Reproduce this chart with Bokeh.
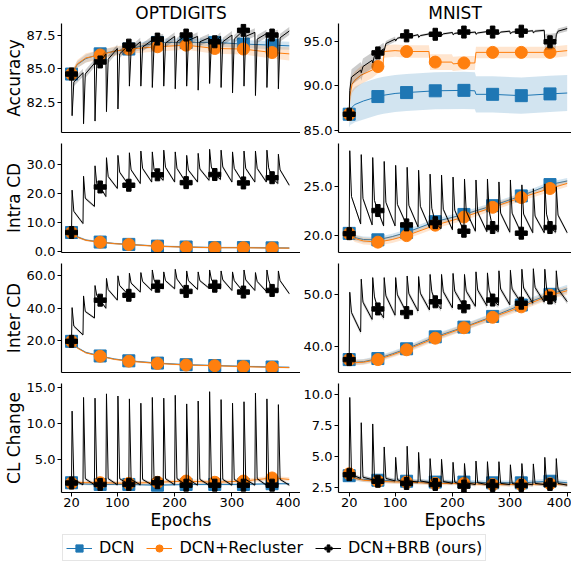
from bokeh.plotting import figure
from bokeh.layouts import column, row
from bokeh.models import (Range1d, FixedTicker, NumeralTickFormatter,
                          Legend, LegendItem)
from bokeh.embed import file_html
from bokeh.resources import INLINE

FONT = "DejaVu Sans"
BLUE = "#1f77b4"
ORANGE = "#ff7f0e"
BLACK = "#000000"

# ---------------- shared epochs ----------------
SX = [20, 30, 45, 70, 95, 120, 170, 220, 270, 320, 370, 400]
MK = [20, 70, 120, 170, 220, 270, 320, 370]
MK_MID = [70, 170, 270, 370]
RESETS = [20, 40, 60, 80, 100, 120, 140, 160, 180, 200, 220, 240, 260, 280, 300, 320, 340, 360, 380]
EPOCH_TICKS = [20, 100, 200, 300, 400]
COL_TITLES = ["OPTDIGITS", "MNIST"]
ROW_LABELS = ["Accuracy", "Intra CD", "Inter CD", "CL Change"]
SERIES_NAMES = ["DCN", "DCN+Recluster", "DCN+BRB (ours)"]

# ---------------- OPTDIGITS accuracy ----------------
OA_DCN = [84.6, 85.3, 85.75, 86.1, 86.3, 86.46, 86.95, 86.95, 86.95, 86.83, 86.75, 86.7]
OA_DCN_SD = [0.15, 0.25, 0.3, 0.3, 0.3, 0.3, 0.3, 0.3, 0.3, 0.3, 0.3, 0.3]
OA_REC = [84.6, 85.35, 85.8, 86.02, 86.3, 86.46, 86.63, 86.75, 86.5, 86.46, 86.2, 86.1]
OA_REC_SD = [0.15, 0.3, 0.35, 0.35, 0.35, 0.35, 0.35, 0.35, 0.4, 0.4, 0.45, 0.5]
OA_BRB_END = [84.6, 84.7, 85.4, 86.1, 86.5, 86.75, 87.0, 87.1, 87.3, 87.4, 87.5, 87.4, 87.3, 87.4, 87.5, 87.85, 87.7, 87.6, 87.6, 87.8]
OA_BRB_PEAK = [81.5, 80.9, 81.1, 81.8, 82.0, 83.7, 83.7, 83.6, 83.7, 83.5, 83.7, 83.4, 83.9, 83.6, 83.2, 83.7, 83.0, 83.6, 83.5]
OA_BRB_MID = [84.0, 84.6, 85.3, 85.7, 86.1, 86.4, 86.6, 86.7, 86.9, 87.0, 87.1, 87.0, 86.9, 87.0, 87.2, 87.4, 87.2, 87.2, 87.3]
OA_BRB_MARK = [85.5, 87.2, 87.0, 87.5]
OA_BRB_SD = [0.3, 0.3, 0.3, 0.3, 0.3, 0.3, 0.3, 0.3, 0.3, 0.3, 0.3, 0.3, 0.3, 0.3, 0.3, 0.3, 0.3, 0.3, 0.3]

# ---------------- MNIST accuracy ----------------
MA_DCN_X = [20, 22, 25, 30, 45, 60, 70, 80, 100, 120, 170, 220, 239, 241, 270, 320, 370, 400]
MA_DCN = [86.8, 87.3, 87.6, 87.9, 88.3, 88.6, 88.8, 88.95, 89.15, 89.25, 89.45, 89.5, 89.45, 89.05, 89.05, 88.9, 89.1, 89.2]
MA_DCN_SD = [1.5, 1.7, 1.9, 2.0, 2.1, 2.1, 2.1, 2.1, 2.1, 2.1, 2.1, 2.1, 2.1, 2.05, 2.05, 2.05, 2.05, 2.05]
MA_REC_X = [20, 21, 25, 30, 40, 60, 70, 79, 81, 100, 120, 159, 161, 170, 199, 201, 220, 239, 241, 270, 320, 370, 400]
MA_REC = [86.8, 88.8, 90.2, 90.65, 91.2, 91.8, 92.2, 92.45, 93.9, 94.0, 93.9, 93.9, 92.7, 92.7, 92.7, 92.5, 92.6, 92.6, 93.8, 93.8, 93.8, 93.8, 94.0]
MA_REC_SD = [0.6, 0.9, 1.0, 1.0, 1.0, 0.9, 0.8, 0.8, 0.7, 0.7, 0.7, 0.7, 0.9, 0.9, 0.9, 0.8, 0.8, 0.8, 0.65, 0.65, 0.65, 0.65, 0.65]
MA_BRB_END = [86.8, 91.8, 92.9, 94.2, 95.3, 95.67, 95.8, 95.9, 96.0, 96.05, 96.1, 96.1, 96.15, 96.15, 96.2, 96.2, 96.25, 96.3, 95.1, 96.5]
MA_BRB_PEAK = [89.5, 91.5, 92.6, 94.0, 95.1, 95.4, 95.5, 95.6, 95.7, 95.8, 95.8, 95.85, 95.85, 95.9, 95.9, 95.95, 96.0, 94.9, 95.8]
MA_BRB_MID = [91.0, 92.2, 93.4, 94.8, 95.4, 95.55, 95.7, 95.8, 95.9, 95.95, 96.0, 96.0, 96.05, 96.1, 96.1, 96.15, 96.2, 95.0, 96.2]
MA_BRB_MARK = [93.74, 95.85, 96.1, 95.0]
MA_BRB_SD = [0.9, 0.9, 0.7, 0.3, 0.15, 0.12, 0.12, 0.12, 0.12, 0.12, 0.12, 0.12, 0.12, 0.12, 0.12, 0.12, 0.15, 0.9, 0.3]

# ---------------- OPTDIGITS intra CD ----------------
OI_DCN = [6.7, 5.2, 4.1, 3.4, 2.9, 2.6, 2.0, 1.7, 1.5, 1.5, 1.4, 1.35]
OI_DCN_SD = [0.5, 0.4, 0.35, 0.3, 0.3, 0.3, 0.3, 0.3, 0.3, 0.3, 0.3, 0.3]
OI_REC = [6.7, 5.1, 4.0, 3.35, 2.85, 2.55, 1.95, 1.65, 1.45, 1.45, 1.35, 1.3]
OI_REC_SD = [0.5, 0.4, 0.35, 0.3, 0.3, 0.3, 0.3, 0.3, 0.3, 0.3, 0.3, 0.3]
OI_BRB_END = [6.7, 9.8, 15.7, 19.1, 21.9, 23.0, 23.6, 24.1, 24.7, 24.1, 23.9, 24.1, 24.7, 25.0, 24.1, 23.8, 24.1, 24.1, 23.6, 23.0]
OI_BRB_PEAK = [21.3, 26.1, 29.7, 32.5, 33.3, 34.2, 34.8, 34.5, 35.1, 34.5, 33.3, 34.0, 35.4, 35.1, 34.5, 34.8, 34.8, 35.1, 33.7]
OI_BRB_MID = [14.0, 18.5, 23.5, 26.0, 27.5, 28.3, 28.8, 28.5, 29.2, 28.8, 28.2, 28.6, 29.3, 29.3, 28.8, 28.8, 28.8, 29.0, 28.3]
OI_BRB_MARK = [22.4, 26.6, 26.7, 25.6]
OI_BRB_SD = [0.5, 0.5, 0.5, 0.5, 0.5, 0.5, 0.5, 0.5, 0.5, 0.5, 0.5, 0.5, 0.5, 0.5, 0.5, 0.5, 0.5, 0.5, 0.5]

# ---------------- MNIST intra CD ----------------
MI_DCN = [20.23, 19.8, 19.6, 19.57, 19.9, 20.33, 21.43, 22.17, 23.07, 24.07, 25.23, 25.6]
MI_DCN_SD = [0.3, 0.3, 0.3, 0.3, 0.3, 0.3, 0.3, 0.3, 0.3, 0.3, 0.3, 0.3]
MI_REC = [20.2, 19.7, 19.45, 19.33, 19.6, 20.0, 21.07, 21.9, 22.9, 23.9, 24.83, 25.35]
MI_REC_SD = [0.35, 0.35, 0.35, 0.35, 0.35, 0.35, 0.35, 0.35, 0.35, 0.35, 0.35, 0.35]
MI_BRB_END = [20.2, 21.2, 21.1, 21.0, 21.0, 21.1, 20.9, 20.8, 20.7, 20.6, 20.45, 20.45, 20.4, 20.4, 20.35, 20.25, 20.3, 20.3, 20.35, 20.3]
MI_BRB_PEAK = [28.7, 28.3, 28.0, 27.6, 27.2, 27.0, 26.7, 26.3, 26.2, 26.0, 25.8, 25.7, 25.8, 25.5, 25.7, 25.2, 24.8, 25.3, 25.0]
MI_BRB_MID = [24.0, 23.8, 23.6, 23.4, 23.2, 23.1, 23.0, 22.8, 22.7, 22.6, 22.5, 22.4, 22.5, 22.3, 22.3, 22.2, 22.0, 22.2, 22.1]
MI_BRB_MARK = [22.57, 21.33, 20.83, 20.83]
MI_BRB_SD = [0.2, 0.2, 0.2, 0.2, 0.2, 0.2, 0.2, 0.2, 0.2, 0.2, 0.2, 0.2, 0.2, 0.2, 0.2, 0.2, 0.2, 0.2, 0.2]

# ---------------- OPTDIGITS inter CD ----------------
OE_DCN = [19.6, 15.8, 12.8, 10.6, 8.7, 7.6, 6.2, 5.2, 4.7, 4.2, 3.8, 3.6]
OE_DCN_SD = [0.6, 0.5, 0.5, 0.5, 0.5, 0.5, 0.5, 0.5, 0.5, 0.5, 0.5, 0.5]
OE_REC = [19.6, 15.5, 12.5, 10.4, 8.5, 7.4, 6.0, 5.0, 4.6, 4.0, 3.6, 3.4]
OE_REC_SD = [0.6, 0.5, 0.5, 0.5, 0.5, 0.5, 0.5, 0.5, 0.5, 0.5, 0.5, 0.5]
OE_BRB_END = [19.6, 23.6, 34.0, 40.0, 45.0, 48.0, 50.0, 51.0, 52.0, 52.0, 50.4, 51.6, 52.4, 52.0, 51.0, 50.0, 51.0, 50.4, 50.0, 49.0]
OE_BRB_PEAK = [40.4, 47.6, 54.0, 58.4, 60.0, 61.6, 62.0, 63.6, 62.4, 64.0, 63.0, 62.4, 63.6, 63.0, 62.4, 63.6, 62.0, 63.6, 63.0]
OE_BRB_MID = [29.0, 38.0, 48.0, 51.5, 54.0, 55.5, 56.5, 57.5, 57.0, 58.0, 57.0, 57.0, 58.0, 57.5, 57.0, 57.5, 56.5, 57.5, 57.0]
OE_BRB_MARK = [45.0, 53.6, 53.6, 51.0]
OE_BRB_SD = [0.8, 0.8, 0.8, 0.8, 0.8, 0.8, 0.8, 0.8, 0.8, 0.8, 0.8, 0.8, 0.8, 0.8, 0.8, 0.8, 0.8, 0.8, 0.8]

# ---------------- MNIST inter CD ----------------
ME_DCN = [37.5, 37.0, 37.1, 37.7, 38.6, 39.57, 41.86, 43.72, 45.77, 47.95, 50.0, 51.05]
ME_DCN_SD = [0.4, 0.5, 0.5, 0.5, 0.5, 0.55, 0.6, 0.6, 0.65, 0.7, 0.75, 0.8]
ME_REC = [37.5, 36.9, 37.0, 37.5, 38.4, 39.38, 41.6, 43.6, 45.6, 47.6, 49.8, 50.7]
ME_REC_SD = [0.4, 0.5, 0.5, 0.5, 0.5, 0.55, 0.6, 0.6, 0.65, 0.7, 0.75, 0.8]
ME_BRB_END = [37.5, 42.8, 45.2, 45.5, 46.0, 46.5, 46.8, 47.0, 47.2, 47.4, 47.6, 47.7, 47.8, 47.9, 48.0, 48.3, 48.3, 48.5, 48.4, 48.6]
ME_BRB_PEAK = [50.4, 52.9, 53.2, 53.2, 53.2, 53.5, 53.4, 53.8, 53.8, 54.0, 53.8, 54.3, 54.1, 54.5, 54.6, 54.8, 54.9, 54.8, 54.5]
ME_BRB_MID = [46.5, 48.5, 49.5, 49.7, 49.9, 50.1, 50.2, 50.5, 50.5, 50.6, 50.6, 50.8, 50.8, 51.0, 51.0, 51.2, 51.3, 51.2, 51.0]
ME_BRB_MARK = [47.2, 48.57, 48.9, 49.3]
ME_BRB_SD = [0.5, 0.5, 0.5, 0.5, 0.5, 0.5, 0.5, 0.5, 0.5, 0.5, 0.5, 0.5, 0.5, 0.5, 0.5, 0.5, 0.5, 0.5, 0.5]

# ---------------- OPTDIGITS CL change ----------------
OC_DCN = [1.74, 1.6, 1.55, 1.5, 1.5, 1.5, 1.4, 1.5, 1.5, 1.5, 1.6, 1.6]
OC_DCN_SD = [0.15, 0.15, 0.15, 0.15, 0.15, 0.15, 0.15, 0.15, 0.15, 0.15, 0.15, 0.15]
OC_REC = [1.7, 1.8, 1.75, 1.74, 1.7, 1.65, 1.8, 1.97, 1.8, 1.97, 2.4, 2.2]
OC_REC_SD = [0.2, 0.25, 0.25, 0.25, 0.25, 0.25, 0.25, 0.3, 0.3, 0.3, 0.3, 0.3]
OC_BRB_END = [1.7, 1.45, 1.45, 1.45, 1.45, 1.5, 1.45, 1.45, 1.45, 1.45, 1.4, 1.4, 1.4, 1.4, 1.4, 1.4, 1.4, 1.4, 1.4, 1.4]
OC_BRB_PEAK = [11.7, 13.6, 13.5, 14.1, 13.8, 13.4, 12.8, 13.6, 13.5, 13.9, 12.7, 13.1, 14.4, 13.3, 12.8, 13.0, 14.2, 13.4, 12.6]
OC_BRB_MID = [2.2, 2.3, 2.3, 2.3, 2.3, 2.2, 2.2, 2.3, 2.3, 2.3, 2.2, 2.2, 2.4, 2.2, 2.2, 2.2, 2.3, 2.2, 2.2]
OC_BRB_MARK = [1.5, 1.74, 1.4, 1.4]
OC_BRB_SD = [0.2, 0.2, 0.2, 0.2, 0.2, 0.2, 0.2, 0.2, 0.2, 0.2, 0.2, 0.2, 0.2, 0.2, 0.2, 0.2, 0.2, 0.2, 0.2]

# ---------------- MNIST CL change ----------------
MC_DCN = [3.42, 3.2, 3.1, 3.05, 3.0, 2.97, 2.9, 2.9, 2.84, 2.84, 2.97, 2.85]
MC_DCN_SD = [0.2, 0.2, 0.2, 0.2, 0.2, 0.2, 0.2, 0.2, 0.2, 0.2, 0.2, 0.2]
MC_REC = [3.58, 3.2, 3.05, 2.97, 2.92, 2.9, 2.79, 2.79, 2.7, 2.7, 2.76, 2.7]
MC_REC_SD = [0.15, 0.15, 0.15, 0.15, 0.15, 0.15, 0.15, 0.15, 0.15, 0.15, 0.15, 0.15]
MC_BRB_END = [3.5, 3.2, 3.1, 3.05, 3.0, 2.79, 2.9, 2.85, 2.8, 2.8, 2.58, 2.7, 2.7, 2.7, 2.7, 2.63, 2.68, 2.7, 2.7, 2.65]
MC_BRB_PEAK = [9.74, 7.7, 7.6, 5.74, 4.9, 5.8, 5.3, 4.8, 4.74, 4.5, 4.4, 4.6, 4.55, 4.55, 4.3, 4.4, 4.37, 4.9, 4.8]
MC_BRB_MID = [3.5, 3.3, 3.3, 3.2, 3.1, 3.0, 3.0, 3.0, 2.95, 2.9, 2.85, 2.85, 2.8, 2.8, 2.8, 2.8, 2.8, 2.8, 2.8]
MC_BRB_MARK = [2.97, 2.71, 2.63, 2.71]
MC_BRB_SD = [0.15, 0.15, 0.15, 0.15, 0.15, 0.15, 0.15, 0.15, 0.15, 0.15, 0.15, 0.15, 0.15, 0.15, 0.15, 0.15, 0.15, 0.15, 0.15]

# ---------------- axis ranges / ticks ----------------
Y_RANGES = [[(80.25, 88.36), (84.73, 97.07)],
            [(-0.2, 37.4), (18.27, 29.44)],
            [(0.4, 67.6), (35.03, 55.9)],
            [(0.38, 15.54), (2.06, 10.87)]]
Y_TICKS = [[[82.5, 85.0, 87.5], [85.0, 90.0, 95.0]],
           [[0.0, 10.0, 20.0, 30.0], [20.0, 25.0]],
           [[20.0, 40.0, 60.0], [40.0, 50.0]],
           [[5.0, 10.0, 15.0], [2.5, 5.0, 7.5, 10.0]]]
X_RANGES = [(2.5, 419.6), (1.35, 407.5)]

PANELS = [
    [dict(dcn=(SX, OA_DCN, OA_DCN_SD), rec=(SX, OA_REC, OA_REC_SD),
          brb=(OA_BRB_END, OA_BRB_PEAK, OA_BRB_MID, OA_BRB_MARK, OA_BRB_SD)),
     dict(dcn=(MA_DCN_X, MA_DCN, MA_DCN_SD), rec=(MA_REC_X, MA_REC, MA_REC_SD),
          brb=(MA_BRB_END, MA_BRB_PEAK, MA_BRB_MID, MA_BRB_MARK, MA_BRB_SD))],
    [dict(dcn=(SX, OI_DCN, OI_DCN_SD), rec=(SX, OI_REC, OI_REC_SD),
          brb=(OI_BRB_END, OI_BRB_PEAK, OI_BRB_MID, OI_BRB_MARK, OI_BRB_SD)),
     dict(dcn=(SX, MI_DCN, MI_DCN_SD), rec=(SX, MI_REC, MI_REC_SD),
          brb=(MI_BRB_END, MI_BRB_PEAK, MI_BRB_MID, MI_BRB_MARK, MI_BRB_SD))],
    [dict(dcn=(SX, OE_DCN, OE_DCN_SD), rec=(SX, OE_REC, OE_REC_SD),
          brb=(OE_BRB_END, OE_BRB_PEAK, OE_BRB_MID, OE_BRB_MARK, OE_BRB_SD)),
     dict(dcn=(SX, ME_DCN, ME_DCN_SD), rec=(SX, ME_REC, ME_REC_SD),
          brb=(ME_BRB_END, ME_BRB_PEAK, ME_BRB_MID, ME_BRB_MARK, ME_BRB_SD))],
    [dict(dcn=(SX, OC_DCN, OC_DCN_SD), rec=(SX, OC_REC, OC_REC_SD),
          brb=(OC_BRB_END, OC_BRB_PEAK, OC_BRB_MID, OC_BRB_MARK, OC_BRB_SD)),
     dict(dcn=(SX, MC_DCN, MC_DCN_SD), rec=(SX, MC_REC, MC_REC_SD),
          brb=(MC_BRB_END, MC_BRB_PEAK, MC_BRB_MID, MC_BRB_MARK, MC_BRB_SD))],
]


def brb_nodes(ends, peaks, mids, marks, sd):
    extra = dict(zip(MK_MID, marks))
    xs, ys, ss = [RESETS[0]], [ends[0]], [sd[0]]
    for i, r in enumerate(RESETS):
        pts = [(r + 1, peaks[i]), (r + 4, mids[i])]
        if r + 10 in extra:
            pts.append((r + 10, extra[r + 10]))
        pts.append((r + 20, ends[i + 1]))
        for x, y in pts:
            xs.append(x)
            ys.append(y)
            ss.append(sd[i])
    return xs, ys, ss


def draw_series(p, xs, ys, sd, color, marker, msize, band_alpha):
    lo = [y - s for y, s in zip(ys, sd)]
    hi = [y + s for y, s in zip(ys, sd)]
    p.varea(x=xs, y1=lo, y2=hi, fill_color=color, fill_alpha=band_alpha)
    p.line(xs, ys, line_color=color, line_width=1)
    mx = [e for e in MK if e in xs]
    my = [ys[xs.index(e)] for e in mx]
    p.scatter(mx, my, marker=marker, size=msize, fill_color=color, line_color=color)


FRAME_W = [239, 233]
FRAME_H = 109
BORDER_L = [55, 36]
ROW_BT = [(0, 7), (4, 7), (4, 7), (4, 41)]
MSIZE = {"square": 12, "circle": 12, "plus": 12}

rows = []
for ri in range(4):
    figs = []
    for ci in range(2):
        yr = Y_RANGES[ri][ci]
        xr = X_RANGES[ci]
        p = figure(frame_width=FRAME_W[ci], frame_height=FRAME_H,
                   x_range=Range1d(*xr), y_range=Range1d(*yr),
                   output_backend="svg", toolbar_location=None,
                   min_border_left=BORDER_L[ci], min_border_right=0,
                   min_border_top=ROW_BT[ri][0], min_border_bottom=ROW_BT[ri][1],
                   title=COL_TITLES[ci] if ri == 0 else None)
        if ri == 0:
            p.title.align = "center"
            p.title.text_font = FONT
            p.title.text_font_size = "17px"
            p.title.text_font_style = "normal"
            p.title.text_color = "black"
            p.title.standoff = 1
            p.title.offset = 0
        p.xgrid.visible = False
        p.ygrid.visible = False
        p.outline_line_color = None
        p.background_fill_color = "white"
        p.border_fill_color = "white"

        ya = p.yaxis[0]
        ya.ticker = FixedTicker(ticks=Y_TICKS[ri][ci])
        ya.formatter = NumeralTickFormatter(format="0.0")
        ya.major_label_text_font = FONT
        ya.major_label_text_font_size = "13px"
        ya.major_label_text_color = "black"
        ya.major_tick_out = 4
        ya.major_tick_in = 0
        ya.minor_tick_out = 0
        ya.minor_tick_in = 0
        ya.major_label_standoff = 2
        ya.axis_line_color = "black"
        ya.axis_line_width = 1.2
        ya.major_tick_line_color = "black"
        if ci == 0:
            ya.axis_label = ROW_LABELS[ri]
            ya.axis_label_text_font = FONT
            ya.axis_label_text_font_size = "17px"
            ya.axis_label_text_font_style = "normal"
            ya.axis_label_text_color = "black"
            ya.axis_label_standoff = 0

        xa = p.xaxis[0]
        xa.axis_line_color = "black"
        xa.axis_line_width = 1.2
        xa.minor_tick_out = 0
        xa.minor_tick_in = 0
        xa.major_tick_in = 0
        if ri == 3:
            xa.ticker = FixedTicker(ticks=EPOCH_TICKS)
            xa.major_tick_out = 4
            xa.major_label_standoff = 1
            xa.major_label_text_font = FONT
            xa.major_label_text_font_size = "13px"
            xa.major_label_text_color = "black"
            xa.major_tick_line_color = "black"
            xa.axis_label = "Epochs"
            xa.axis_label_text_font = FONT
            xa.axis_label_text_font_size = "17px"
            xa.axis_label_text_font_style = "normal"
            xa.axis_label_text_color = "black"
            xa.axis_label_standoff = 0
        else:
            xa.ticker = FixedTicker(ticks=[])
            xa.major_tick_out = 0
            xa.major_label_standoff = 0
            xa.major_label_text_font_size = "0px"

        pdata = PANELS[ri][ci]
        x, y, s = pdata["dcn"]
        draw_series(p, x, y, s, BLUE, "square", MSIZE["square"], 0.2)
        x, y, s = pdata["rec"]
        draw_series(p, x, y, s, ORANGE, "circle", MSIZE["circle"], 0.2)
        x, y, s = brb_nodes(*pdata["brb"])
        draw_series(p, x, y, s, BLACK, "plus", MSIZE["plus"], 0.2)
        figs.append(p)
    rows.append(row(*figs, spacing=0))

# ---------------- legend strip ----------------
leg = figure(width=sum(FRAME_W) + sum(BORDER_L), height=28,
             x_range=Range1d(0, 1), y_range=Range1d(0, 1),
             output_backend="svg", toolbar_location=None, min_border=0)
leg.axis.visible = False
leg.xgrid.visible = False
leg.ygrid.visible = False
leg.outline_line_color = None
items = []
# legend key glyphs reuse each series' first value (lies outside this strip's 0..1 range)
first_vals = [OA_DCN[0], OA_REC[0], OA_BRB_END[0]]
for name, color, marker, v in zip(SERIES_NAMES, [BLUE, ORANGE, BLACK],
                                  ["square", "circle", "plus"], first_vals):
    r1 = leg.line([MK[0], MK[1]], [v, v], line_color=color, line_width=1)
    r2 = leg.scatter([MK[0]], [v], marker=marker, size=MSIZE[marker],
                     fill_color=color, line_color=color)
    items.append(LegendItem(label=name, renderers=[r1, r2]))
legend = Legend(items=items, orientation="horizontal", location=(62, 0), margin=0,
                padding=3, spacing=12, label_standoff=7, glyph_width=26, glyph_height=18,
                label_text_font=FONT, label_text_font_size="16px", label_text_color="black",
                border_line_color="#cccccc", border_line_width=1, background_fill_alpha=1.0)
leg.add_layout(legend, "center")

layout = column(*rows, leg, spacing=0)
open("out.html", "w").write(file_html(layout, INLINE))
